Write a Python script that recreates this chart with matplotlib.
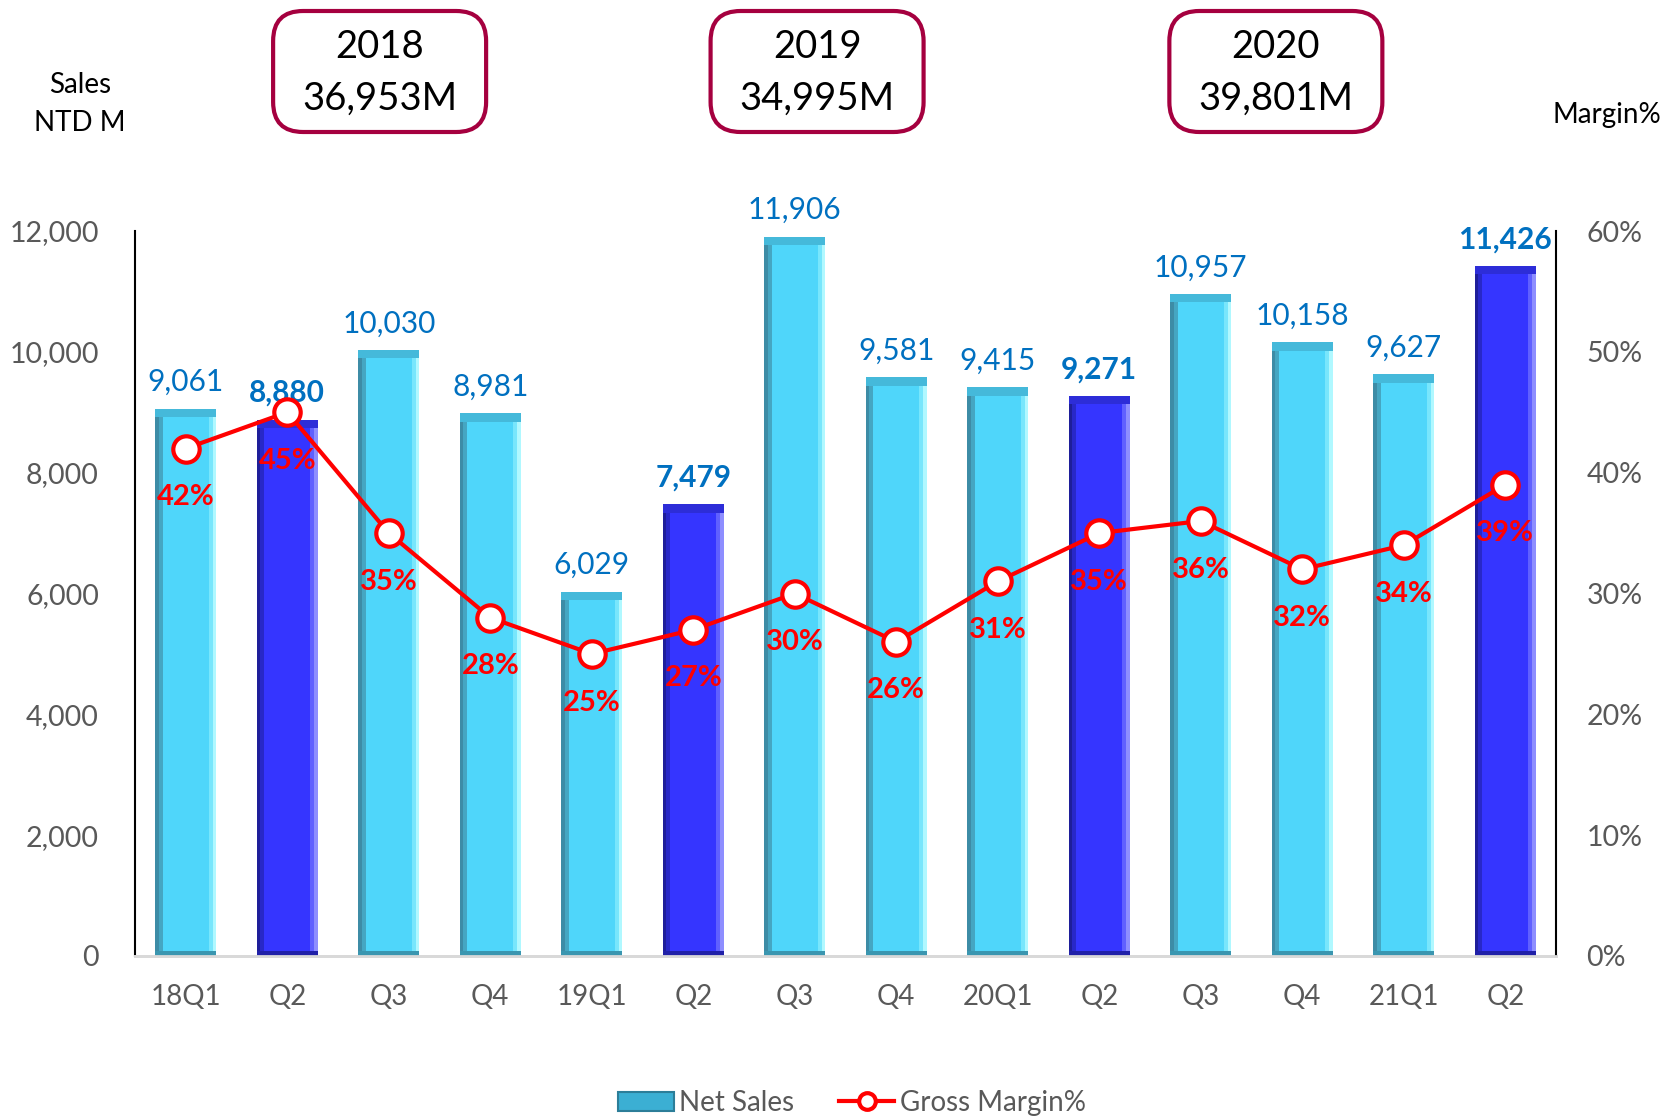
import matplotlib
matplotlib.use("Agg")
import matplotlib.pyplot as plt
from matplotlib.patches import FancyBboxPatch, Patch
from matplotlib.lines import Line2D
import numpy as np

plt.rcParams['font.family'] = ['Lato', 'DejaVu Sans']

quarters = ["18Q1", "Q2", "Q3", "Q4", "19Q1", "Q2", "Q3", "Q4", "20Q1", "Q2", "Q3", "Q4", "21Q1", "Q2"]
net_sales = [9061, 8880, 10030, 8981, 6029, 7479, 11906, 9581, 9415, 9271, 10957, 10158, 9627, 11426]
gross_margin = [42, 45, 35, 28, 25, 27, 30, 26, 31, 35, 36, 32, 34, 39]
highlight = [False, True, False, False, False, True, False, False, False, True, False, False, False, True]
year_labels = ["2018\n36,953M", "2019\n34,995M", "2020\n39,801M"]
year_centers = [1.91, 6.22, 10.74]

W, H = 1667, 1119
fig = plt.figure(figsize=(W / 100, H / 100), dpi=100)
ax = fig.add_axes([135 / W, 1 - 956 / H, (1556 - 135) / W, (956 - 231) / H])
ax2 = ax.twinx()

x = np.arange(len(quarters))
bw = 0.6
ax.set_xlim(-0.5, len(quarters) - 0.5)
ax.set_ylim(0, 12000)
ax2.set_ylim(0, 60)

light = dict(face="#4FD6FA", left="#3D8CA6", left2="#45A6C2", right="#B0F8FF", right2="#78E6FC", top="#45B9DA", bottom="#3A96B0")
dark = dict(face="#3535FF", left="#1E1E9A", left2="#2828C8", right="#8E8EFF", right2="#6060FF", top="#2D2DD8", bottom="#2020A8")

vals = np.array(net_sales, dtype=float)
edge_h = 140.0
for i, (v, hl) in enumerate(zip(vals, highlight)):
    c = dark if hl else light
    left_x = x[i] - bw / 2
    ax.bar(x[i], v, width=bw, color=c["face"], zorder=2)
    ax.bar(left_x, v, width=bw * 0.06, align="edge", color=c["left"], zorder=3)
    ax.bar(left_x + bw * 0.06, v, width=bw * 0.06, align="edge", color=c["left2"], zorder=3)
    ax.bar(x[i] + bw / 2 - bw * 0.12, v, width=bw * 0.06, align="edge", color=c["right2"], zorder=3)
    ax.bar(x[i] + bw / 2 - bw * 0.06, v, width=bw * 0.06, align="edge", color=c["right"], zorder=3)
    ax.bar(x[i], edge_h, bottom=v - edge_h, width=bw, color=c["top"], zorder=4)
    ax.bar(x[i], edge_h * 0.6, width=bw, color=c["bottom"], zorder=4)
    ax.annotate(f"{int(v):,}", (x[i], v), xytext=(0, 9), textcoords="offset points",
                ha="center", va="bottom", fontsize=21.5, color="#0070C0",
                fontweight="bold" if hl else "normal", zorder=6)

ax2.plot(x, gross_margin, color="#FF0000", lw=3, marker="o", markersize=19,
         markerfacecolor="white", markeredgecolor="#FF0000", markeredgewidth=3, zorder=5)
for xi, m in zip(x, gross_margin):
    ax2.annotate(f"{m}%", (xi, m), xytext=(0, -35), textcoords="offset points",
                 ha="center", va="center", fontsize=21, color="#FF0000", fontweight="bold", zorder=6)

ax.set_zorder(1)
ax2.set_zorder(2)
ax2.patch.set_visible(False)

ax.set_yticks(np.arange(0, 12001, 2000))
ax.set_yticklabels([f"{t:,}" for t in range(0, 12001, 2000)])
ax2.set_yticks(np.arange(0, 61, 10))
ax2.set_yticklabels([f"{t}%" for t in range(0, 61, 10)])
ax.set_xticks(x)
ax.set_xticklabels(quarters)
ax.tick_params(axis="y", length=0, pad=26, labelsize=20.5, labelcolor="#595959")
ax.tick_params(axis="x", length=0, pad=20, labelsize=20, labelcolor="#595959")
ax2.tick_params(axis="y", length=0, pad=22, labelsize=20.5, labelcolor="#595959")

for a in (ax, ax2):
    a.spines["top"].set_visible(False)
    a.spines["bottom"].set_color("#D9D9D9")
    a.spines["bottom"].set_linewidth(2)
    a.spines["left"].set_color("black")
    a.spines["right"].set_color("black")
    a.spines["left"].set_linewidth(1.5)
    a.spines["right"].set_linewidth(1.5)
ax.spines["right"].set_visible(False)
ax2.spines["left"].set_visible(False)

fig.text(80 / W, 1 - 104 / H, "Sales\nNTD M", ha="center", va="center", fontsize=20, color="black", linespacing=1.6)
fig.text(1661 / W, 1 - 115 / H, "Margin%", ha="right", va="center", fontsize=20, color="black")

# year boxes
box_w, box_h = 213 / W, 121 / H
for yc, lab in zip(year_centers, year_labels):
    disp = ax.transData.transform((yc, 0))
    fx = fig.transFigure.inverted().transform(disp)[0]
    bx = FancyBboxPatch((fx - box_w / 2, 1 - 132 / H), box_w, box_h,
                        boxstyle="round,pad=0,rounding_size=0.018", transform=fig.transFigure,
                        facecolor="white", edgecolor="#A5003F", linewidth=3, mutation_aspect=W / H)
    fig.add_artist(bx)
    fig.text(fx, 1 - 73 / H, lab, ha="center", va="center", fontsize=27.5, color="black", linespacing=1.55)

handles = [Patch(facecolor="#3BAFD3", edgecolor="#2C7E99", linewidth=1.5),
           Line2D([], [], color="#FF0000", lw=3, marker="o", markersize=12,
                  markerfacecolor="white", markeredgecolor="#FF0000", markeredgewidth=3)]
fig.legend(handles, ["Net Sales", "Gross Margin%"], loc="center", bbox_to_anchor=(852 / W, 1 - 1103 / H),
           ncol=2, frameon=False, fontsize=20, labelcolor="#595959", handlelength=2.0,
           handletextpad=0.2, columnspacing=1.6)

fig.savefig("out.png", dpi=100)
